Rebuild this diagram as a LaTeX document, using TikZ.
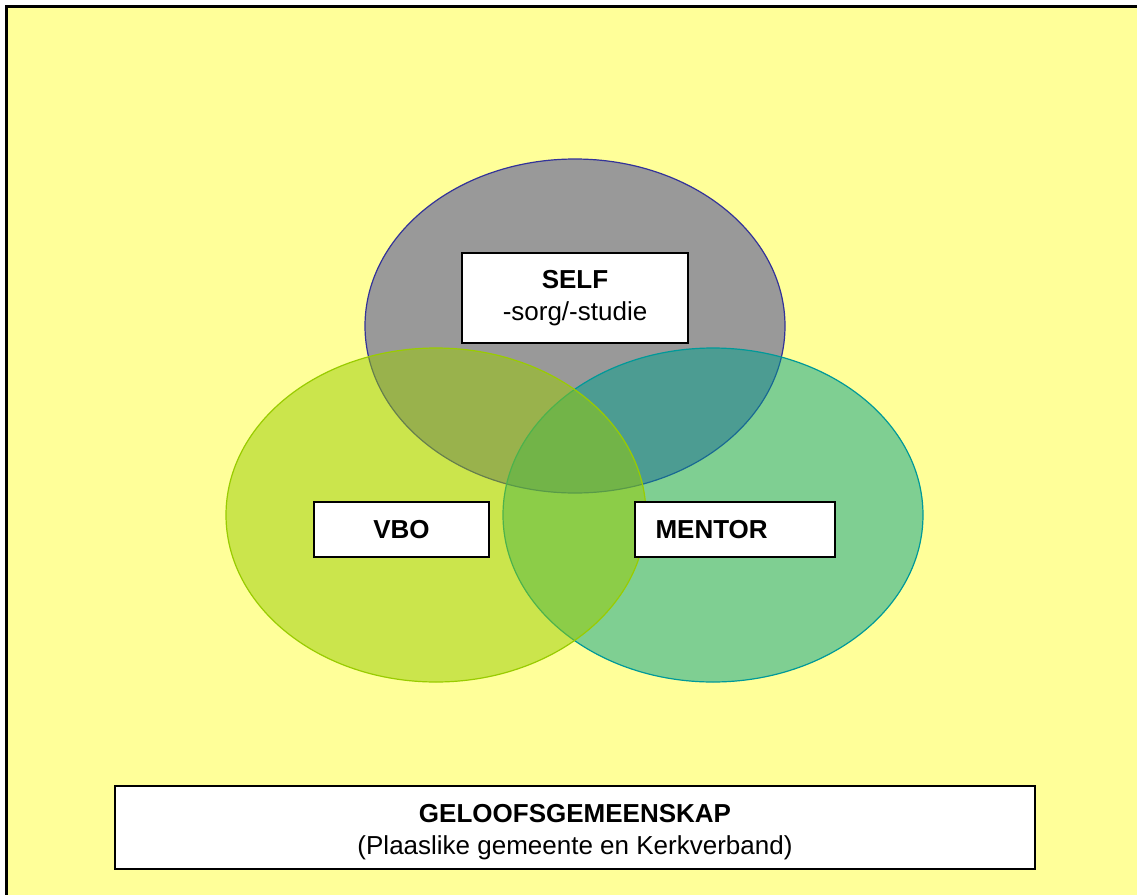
\documentclass[tikz,border=0pt]{standalone}
\usepackage{fontspec}
\setmainfont{Liberation Sans}
\definecolor{paleyellow}{HTML}{FFFF99}
\definecolor{selfgray}{HTML}{999999}
\definecolor{selfrim}{HTML}{333399}
\definecolor{vbogreen}{HTML}{99CC00}
\definecolor{mentorteal}{HTML}{00A08C}
\definecolor{mentorrim}{HTML}{009999}
\tikzset{
  labelbox/.style={draw=black, line width=1pt, fill=white, inner sep=0pt,
    font=\fontsize{13}{16}\selectfont, align=center},
}
\begin{document}
\begin{tikzpicture}[x=0.5pt,y=-0.5pt]
\useasboundingbox (0,0) rectangle (1137,895);
\fill[white] (0,0) rectangle (1137,895);
% agtergrond met raam
\begin{scope}
\clip (0,0) rectangle (1137,895);
\fill[paleyellow] (6.5,6.5) rectangle (1150,910);
\draw[line width=1.5pt] (6.5,6.5) rectangle (1150,910);
\end{scope}
% die drie sirkels
\fill[selfgray] (575,326) ellipse [x radius=210, y radius=167];
\draw[selfrim, line width=0.6pt] (575,326) ellipse [x radius=210, y radius=167];
\fill[mentorteal, opacity=0.5] (713,515) ellipse [x radius=210, y radius=167];
\draw[mentorrim, line width=0.6pt] (713,515) ellipse [x radius=210, y radius=167];
\fill[vbogreen, opacity=0.5] (436,515) ellipse [x radius=210, y radius=167];
\draw[vbogreen, line width=0.6pt] (436,515) ellipse [x radius=210, y radius=167];
% blokkies
\node[labelbox, minimum width=113pt, minimum height=45pt] (selfbox) at (575,298)
  {\textbf{SELF}\\-sorg/-studie};
\node[labelbox, minimum width=87.5pt, minimum height=27.5pt] (vbobox) at (401.5,529.5)
  {\textbf{VBO}};
\node[labelbox, minimum width=100pt, minimum height=27.5pt, text width=79.5pt,
  inner xsep=10.25pt, align=left] (mentorbox) at (735,529.5) {\textbf{MENTOR}};
\node[labelbox, minimum width=460pt, minimum height=41.5pt] (gemeenskap) at (575,827.5) {};
\node[font=\fontsize{13}{16}\selectfont, align=center, inner sep=0pt, yshift=-2.5pt]
  (gemeenskaptext) at (gemeenskap.center)
  {\textbf{GELOOFSGEMEENSKAP}\\(Plaaslike gemeente en Kerkverband)};
\end{tikzpicture}
\end{document}
